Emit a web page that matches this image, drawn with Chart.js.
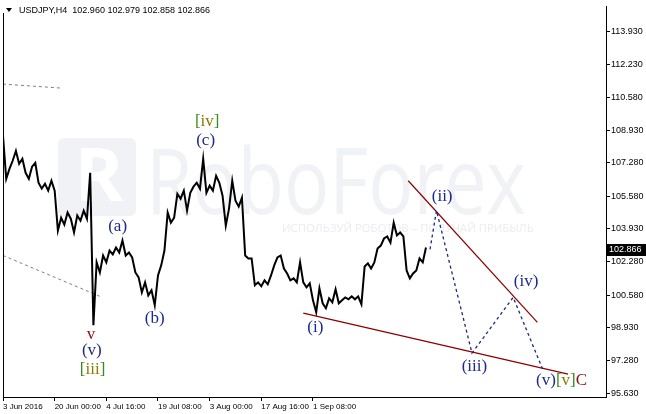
<!DOCTYPE html>
<html>
<head>
<meta charset="utf-8">
<script src="https://cdn.jsdelivr.net/npm/chart.js@4.4.0/dist/chart.umd.min.js"></script>
<style>
  html, body { margin: 0; padding: 0; background: #fff; }
  #wrap { width: 646px; height: 414px; }
</style>
</head>
<body>
<div id="wrap"><canvas id="myChart" width="646" height="414"></canvas></div>
<script>
// USDJPY H4 quotes, one reading every 4 bars
const barStep = 4;
const prices = [
  108.64, 106.47, 106.97, 107.38, 107.88, 107.23, 107.48, 106.77, 106.47, 107.08,
  107.28, 106.27, 105.97, 106.22, 105.87, 106.37, 105.87, 103.85, 104.50, 104.15,
  104.76, 104.45, 103.75, 104.61, 104.35, 104.86, 104.45, 106.77, 99.06, 102.24,
  101.73, 102.59, 102.24, 102.84, 102.64, 102.99, 102.74, 103.35, 102.59, 102.74,
  102.49, 101.73, 101.48, 100.72, 101.23, 100.57, 100.83, 100.07, 101.58, 102.09,
  102.84, 104.76, 104.25, 104.50, 105.71, 105.46, 105.87, 104.86, 105.76, 106.07,
  106.27, 105.97, 107.48, 105.76, 106.12, 105.87, 106.62, 106.27, 105.61, 104.10,
  104.96, 106.37, 105.36, 105.06, 105.51, 102.59, 102.44, 102.44, 101.08, 101.23,
  101.03, 101.33, 101.13, 101.58, 102.09, 102.49, 102.59, 101.93, 101.68, 101.33,
  101.43, 101.23, 102.24, 101.23, 100.98, 101.18, 100.32, 99.72, 100.93, 100.17,
  99.92, 100.42, 100.22, 100.88, 100.17, 100.32, 100.47, 100.37, 100.52, 100.37,
  100.52, 100.12, 102.03, 102.19, 101.93, 102.24, 102.94, 103.09, 103.45, 103.55,
  103.24, 104.25, 103.60, 103.75, 103.55, 101.83, 101.43, 101.68, 101.83, 102.44,
  102.24, 102.99
];

// forecast path: start, (ii), (iii), (iv), (v)
const waveBars = [529, 537, 581, 632, 669];
const wavePrices = [102.90, 104.86, 97.65, 100.47, 96.79];

// channel lines
const lowerLineBars = [372, 700];
const lowerLinePrices = [99.67, 96.59];
const upperLineBars = [502, 662];
const upperLinePrices = [106.37, 99.21];

// old grey dashed lines on the left
const greyTopBars = [0, 71];
const greyTopPrices = [111.26, 111.06];
const greyLowBars = [0, 123];
const greyLowPrices = [102.59, 100.47];

const yTicks = [95.63, 97.28, 98.93, 100.58, 102.28, 103.93, 105.58, 107.28, 108.93, 110.58, 112.23, 113.93];
const xTickBars = [0, 64, 128, 192, 256, 320, 384];
const xTickLabels = ['3 Jun 2016', '20 Jun 00:00', '4 Jul 16:00', '19 Jul 08:00', '3 Aug 00:00', '17 Aug 16:00', '1 Sep 08:00'];

const title = 'USDJPY,H4  102.960 102.979 102.858 102.866';
const lastQuote = 102.866;

// wave labels: text, bar, price, colour
const navy = '#1c2a8a';
const green = '#3a8a1e';
const olive = '#8a7a00';
const darkRed = '#8b1010';
const waveLabels = [
  { parts: [['[', green], ['iv', olive], [']', green]], bar: 253, price: 109.39 },
  { parts: [['(c)', navy]], bar: 251, price: 108.39 },
  { parts: [['(a)', navy]], bar: 142, price: 104.05 },
  { parts: [['(b)', navy]], bar: 188, price: 99.41 },
  { parts: [['v', darkRed]], bar: 109, price: 98.61 },
  { parts: [['(v)', navy]], bar: 110, price: 97.80 },
  { parts: [['[', green], ['iii', olive], [']', green]], bar: 111, price: 96.84 },
  { parts: [['(i)', navy]], bar: 387, price: 98.96 },
  { parts: [['(ii)', navy]], bar: 544, price: 105.56 },
  { parts: [['(iii)', navy]], bar: 584, price: 96.99 },
  { parts: [['(iv)', navy]], bar: 648, price: 101.28 },
  { parts: [['(v)', navy], ['[', green], ['v', olive], [']', green], ['C', darkRed]], bar: 692, price: 96.24 }
];

const toPoints = (xs, ys) => xs.map((x, i) => ({ x: x, y: ys[i] }));
const pricePoints = prices.map((p, i) => ({ x: i * barStep, y: p }));

const uiFont = '"Liberation Sans", Arial, sans-serif';

const watermark = {
  id: 'watermark',
  beforeDatasetsDraw(chart) {
    const { ctx } = chart;
    ctx.save();
    // logo square
    ctx.fillStyle = '#f0f2f5';
    ctx.beginPath();
    ctx.roundRect(58, 138, 78, 78, 6);
    ctx.fill();
    ctx.fillStyle = '#ffffff';
    ctx.font = 'bold 74px "Open Sans", sans-serif';
    ctx.textAlign = 'center';
    ctx.textBaseline = 'middle';
    ctx.fillText('R', 99, 180);
    // brand text
    ctx.fillStyle = '#f0f2f5';
    ctx.font = '92px "Open Sans", sans-serif';
    ctx.textAlign = 'left';
    ctx.textBaseline = 'alphabetic';
    const w = ctx.measureText('RoboForex').width;
    ctx.save();
    ctx.translate(146, 214);
    ctx.scale(380 / w, 1);
    ctx.fillText('RoboForex', 0, 0);
    ctx.restore();
    ctx.fillStyle = '#e9ecf1';
    ctx.font = '11px "Open Sans", sans-serif';
    const s = 'ИСПОЛЬЗУЙ РОБОТОВ – ПОЛУЧАЙ ПРИБЫЛЬ';
    const sw = ctx.measureText(s).width;
    ctx.save();
    ctx.translate(282, 232);
    ctx.scale(252 / sw, 1);
    ctx.fillText(s, 0, 0);
    ctx.restore();
    ctx.restore();
  },
  afterDraw(chart) {
    const { ctx, chartArea, scales } = chart;
    ctx.save();
    // left frame line
    ctx.strokeStyle = '#000';
    ctx.lineWidth = 1;
    ctx.beginPath();
    ctx.moveTo(chartArea.left + 0.5, 13);
    ctx.lineTo(chartArea.left + 0.5, chartArea.bottom);
    ctx.stroke();
    // wave labels
    ctx.font = '17px "Liberation Serif", "Times New Roman", serif';
    ctx.textBaseline = 'middle';
    waveLabels.forEach(lb => {
      const total = lb.parts.reduce((a, p) => a + ctx.measureText(p[0]).width, 0);
      let x = scales.x.getPixelForValue(lb.bar) - total / 2;
      const y = scales.y.getPixelForValue(lb.price);
      lb.parts.forEach(p => {
        ctx.fillStyle = p[1];
        ctx.textAlign = 'left';
        ctx.fillText(p[0], x, y);
        x += ctx.measureText(p[0]).width;
      });
    });
    // title
    ctx.fillStyle = '#000';
    ctx.beginPath();
    ctx.moveTo(6, 8);
    ctx.lineTo(12, 8);
    ctx.lineTo(9, 12);
    ctx.closePath();
    ctx.fill();
    ctx.font = '9px ' + uiFont;
    ctx.textAlign = 'left';
    ctx.textBaseline = 'middle';
    ctx.fillText(title, 19, 11);
    // last quote box
    const qy = scales.y.getPixelForValue(lastQuote);
    ctx.fillStyle = '#000';
    ctx.fillRect(chartArea.right + 1, Math.round(qy) - 6, 40, 12);
    ctx.fillStyle = '#fff';
    ctx.font = '9px ' + uiFont;
    ctx.fillText(lastQuote.toFixed(3), chartArea.right + 3, Math.round(qy));
    ctx.restore();
  }
};

new Chart(document.getElementById('myChart'), {
  type: 'line',
  data: {
    datasets: [
      { data: pricePoints, borderColor: '#000', borderWidth: 2, pointRadius: 0, tension: 0, order: 0 },
      { data: toPoints(waveBars, wavePrices), borderColor: '#1c2a7a', borderWidth: 1.3, borderDash: [3, 3], pointRadius: 0, order: 1 },
      { data: toPoints(lowerLineBars, lowerLinePrices), borderColor: '#8b0000', borderWidth: 1.2, pointRadius: 0, order: 2 },
      { data: toPoints(upperLineBars, upperLinePrices), borderColor: '#8b0000', borderWidth: 1.2, pointRadius: 0, order: 2 },
      { data: toPoints(greyTopBars, greyTopPrices), borderColor: '#808080', borderWidth: 1, borderDash: [3, 3], pointRadius: 0, order: 3 },
      { data: toPoints(greyLowBars, greyLowPrices), borderColor: '#808080', borderWidth: 1, borderDash: [3, 3], pointRadius: 0, order: 3 }
    ]
  },
  options: {
    responsive: false,
    animation: false,
    layout: { padding: { left: 3, top: 5, right: 0, bottom: 0 } },
    plugins: { legend: { display: false }, tooltip: { enabled: false } },
    scales: {
      x: {
        type: 'linear',
        min: 0,
        max: 747,
        afterBuildTicks: axis => { axis.ticks = xTickBars.map(v => ({ value: v })); },
        afterFit: axis => { axis.height = 17; },
        grid: { drawOnChartArea: false, drawTicks: true, tickLength: 4, color: '#000' },
        border: { display: true, color: '#000', width: 1 },
        ticks: {
          autoSkip: false,
          maxRotation: 0,
          align: 'start',
          padding: 1,
          color: '#000',
          font: { family: uiFont, size: 8 },
          callback: (v) => xTickLabels[xTickBars.indexOf(v)]
        }
      },
      y: {
        position: 'right',
        min: 95.43,
        max: 115.19,
        afterBuildTicks: axis => { axis.ticks = yTicks.map(v => ({ value: v })); },
        afterFit: axis => { axis.width = 40; },
        grid: { drawOnChartArea: false, drawTicks: true, tickLength: 4, color: '#000' },
        border: { display: true, color: '#000', width: 1 },
        ticks: {
          padding: 1,
          color: '#000',
          font: { family: uiFont, size: 9 },
          callback: v => v.toFixed(3)
        }
      }
    }
  },
  plugins: [watermark]
});
</script>
</body>
</html>
